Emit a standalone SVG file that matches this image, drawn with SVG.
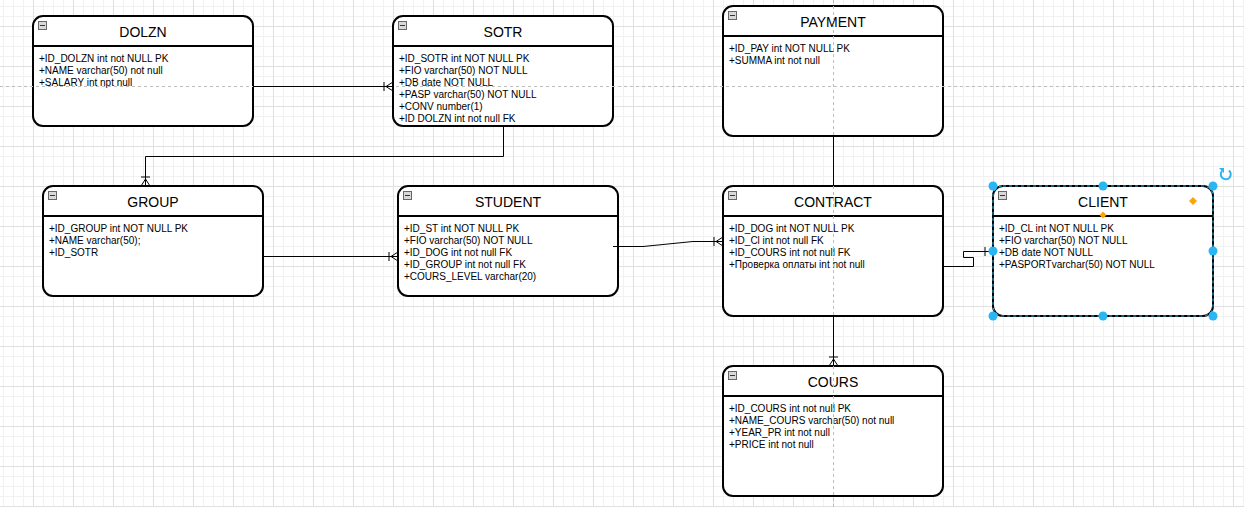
<svg xmlns="http://www.w3.org/2000/svg" width="1244" height="507" viewBox="0 0 1244 507">
<style>
.box{fill:#fff;stroke:#000;stroke-width:2}
.div{stroke:#000;stroke-width:2}
.ttl{font-family:"Liberation Sans",Arial,sans-serif;font-size:14px;fill:#000;text-anchor:middle}
.att{font-family:"Liberation Sans",Arial,sans-serif;font-size:10px;fill:#000}
.ico{fill:#d8d8d8;stroke:#666;stroke-width:1}
.edge{fill:none;stroke:#000;stroke-width:1}
.guide{stroke:#bdbdbd;stroke-width:1;stroke-dasharray:3 3;fill:none}
.hdl{fill:#29b6f2}
.dia{fill:#ffa500}
</style>
<defs>
<pattern id="grid" patternUnits="userSpaceOnUse" x="33" y="26" width="40" height="40">
<rect width="40" height="40" fill="#fff"/>
<rect x="10" y="0" width="1" height="40" fill="#f1f1f1"/>
<rect x="20" y="0" width="1" height="40" fill="#f1f1f1"/>
<rect x="30" y="0" width="1" height="40" fill="#f1f1f1"/>
<rect x="0" y="10" width="40" height="1" fill="#f1f1f1"/>
<rect x="0" y="20" width="40" height="1" fill="#f1f1f1"/>
<rect x="0" y="30" width="40" height="1" fill="#f1f1f1"/>
<rect x="0" y="0" width="1" height="40" fill="#e0e0e0"/>
<rect x="0" y="0" width="40" height="1" fill="#e0e0e0"/>
</pattern>
<marker id="many" markerUnits="userSpaceOnUse" markerWidth="12" markerHeight="12" viewBox="0 0 12 12" refX="12" refY="6" orient="auto">
<path d="M3,1.5 V10.5 M5,6 L12,1.5 M5,6 L12,10.5 M0,6 H12" fill="none" stroke="#000" stroke-width="1"/>
</marker>
<marker id="one" markerUnits="userSpaceOnUse" markerWidth="12" markerHeight="12" viewBox="0 0 12 12" refX="12" refY="6" orient="auto">
<path d="M4,1.5 V10.5 M0,6 H12" fill="none" stroke="#000" stroke-width="1"/>
</marker>
</defs>
<rect width="1244" height="507" fill="url(#grid)"/>

<g id="DOLZN">
<rect class="box" x="33" y="16" width="220" height="110" rx="10"/>
<line class="div" x1="33" y1="46" x2="253" y2="46"/>
<rect class="ico" x="38.5" y="21.5" width="8" height="8"/><line x1="40" y1="25.5" x2="45" y2="25.5" stroke="#333"/>
<text class="ttl" x="143" y="37">DOLZN</text>
<text class="att" x="39" y="62">+ID_DOLZN int not NULL PK</text>
<text class="att" x="39" y="74">+NAME varchar(50) not null</text>
<text class="att" x="39" y="86">+SALARY int npt null</text>
</g>

<g id="SOTR">
<rect class="box" x="393" y="16" width="220" height="110" rx="10"/>
<line class="div" x1="393" y1="46" x2="613" y2="46"/>
<rect class="ico" x="398.5" y="21.5" width="8" height="8"/><line x1="400" y1="25.5" x2="405" y2="25.5" stroke="#333"/>
<text class="ttl" x="503" y="37">SOTR</text>
<text class="att" x="399" y="62">+ID_SOTR int NOT NULL PK</text>
<text class="att" x="399" y="74">+FIO varchar(50) NOT NULL</text>
<text class="att" x="399" y="86">+DB date NOT NULL</text>
<text class="att" x="399" y="98">+PASP varchar(50) NOT NULL</text>
<text class="att" x="399" y="110">+CONV number(1)</text>
<text class="att" x="399" y="122">+ID DOLZN int not null FK</text>
</g>

<g id="PAYMENT">
<rect class="box" x="723" y="6" width="220" height="130" rx="10"/>
<line class="div" x1="723" y1="36" x2="943" y2="36"/>
<rect class="ico" x="728.5" y="11.5" width="8" height="8"/><line x1="730" y1="15.5" x2="735" y2="15.5" stroke="#333"/>
<text class="ttl" x="833" y="27">PAYMENT</text>
<text class="att" x="729" y="52">+ID_PAY int NOT NULL PK</text>
<text class="att" x="729" y="64">+SUMMA int not null</text>
</g>

<g id="GROUP">
<rect class="box" x="43" y="186" width="220" height="110" rx="10"/>
<line class="div" x1="43" y1="216" x2="263" y2="216"/>
<rect class="ico" x="48.5" y="191.5" width="8" height="8"/><line x1="50" y1="195.5" x2="55" y2="195.5" stroke="#333"/>
<text class="ttl" x="153" y="207">GROUP</text>
<text class="att" x="49" y="232">+ID_GROUP int NOT NULL PK</text>
<text class="att" x="49" y="244">+NAME varchar(50);</text>
<text class="att" x="49" y="256">+ID_SOTR</text>
</g>

<g id="STUDENT">
<rect class="box" x="398" y="186" width="220" height="110" rx="10"/>
<line class="div" x1="398" y1="216" x2="618" y2="216"/>
<rect class="ico" x="403.5" y="191.5" width="8" height="8"/><line x1="405" y1="195.5" x2="410" y2="195.5" stroke="#333"/>
<text class="ttl" x="508" y="207">STUDENT</text>
<text class="att" x="404" y="232">+ID_ST int NOT NULL PK</text>
<text class="att" x="404" y="244">+FIO varchar(50) NOT NULL</text>
<text class="att" x="404" y="256">+ID_DOG int not null FK</text>
<text class="att" x="404" y="268">+ID_GROUP int not null FK</text>
<text class="att" x="404" y="280">+COURS_LEVEL varchar(20)</text>
</g>

<g id="CONTRACT">
<rect class="box" x="723" y="186" width="220" height="130" rx="10"/>
<line class="div" x1="723" y1="216" x2="943" y2="216"/>
<rect class="ico" x="728.5" y="191.5" width="8" height="8"/><line x1="730" y1="195.5" x2="735" y2="195.5" stroke="#333"/>
<text class="ttl" x="833" y="207">CONTRACT</text>
<text class="att" x="729" y="232">+ID_DOG int NOT NULL PK</text>
<text class="att" x="729" y="244">+ID_Cl int not null FK</text>
<text class="att" x="729" y="256">+ID_COURS int not null FK</text>
<text class="att" x="729" y="268">+Проверка оплаты int not null</text>
</g>

<g id="CLIENT">
<rect class="box" x="993" y="186" width="220" height="130" rx="10"/>
<rect x="993" y="186" width="220" height="130" rx="10" fill="none" stroke="#29b6f2" stroke-width="1" stroke-dasharray="3 3"/>
<line class="div" x1="993" y1="216" x2="1213" y2="216"/>
<rect class="ico" x="998.5" y="191.5" width="8" height="8"/><line x1="1000" y1="195.5" x2="1005" y2="195.5" stroke="#333"/>
<text class="ttl" x="1103" y="207">CLIENT</text>
<text class="att" x="999" y="232">+ID_CL int NOT NULL PK</text>
<text class="att" x="999" y="244">+FIO varchar(50) NOT NULL</text>
<text class="att" x="999" y="256">+DB date NOT NULL</text>
<text class="att" x="999" y="268">+PASPORTvarchar(50) NOT NULL</text>
</g>

<g id="COURS">
<rect class="box" x="723" y="366" width="220" height="130" rx="10"/>
<line class="div" x1="723" y1="396" x2="943" y2="396"/>
<rect class="ico" x="728.5" y="371.5" width="8" height="8"/><line x1="730" y1="375.5" x2="735" y2="375.5" stroke="#333"/>
<text class="ttl" x="833" y="387">COURS</text>
<text class="att" x="729" y="412">+ID_COURS int not null PK</text>
<text class="att" x="729" y="424">+NAME_COURS varchar(50) not null</text>
<text class="att" x="729" y="436">+YEAR_PR int not null</text>
<text class="att" x="729" y="448">+PRICE int not null</text>
</g>

<g id="guides">
<line class="guide" x1="0" y1="86.5" x2="1244" y2="86.5"/>
<line class="guide" x1="833.5" y1="0" x2="833.5" y2="507"/>
</g>

<g id="connectors">
<path class="edge" d="M253,86.5 H393" marker-end="url(#many)"/>
<path class="edge" d="M503.5,126 V156.5 H145.5 V186" marker-end="url(#many)"/>
<path class="edge" d="M263,256.5 H398" marker-end="url(#many)"/>
<path class="edge" d="M613,246.5 H643 L693,241.5 H723" marker-end="url(#many)"/>
<path class="edge" d="M833.5,136 V186"/>
<path class="edge" d="M943,266.5 H973.5 V257.5 H963.5 V251.5 H993" marker-end="url(#one)"/>
<path class="edge" d="M833.5,316 V366" marker-end="url(#many)"/>
</g>

<g id="selection">
<circle class="hdl" cx="993" cy="186" r="4.5"/>
<circle class="hdl" cx="1103" cy="186" r="4.5"/>
<circle class="hdl" cx="1213" cy="186" r="4.5"/>
<circle class="hdl" cx="993" cy="251" r="4.5"/>
<circle class="hdl" cx="1213" cy="251" r="4.5"/>
<circle class="hdl" cx="993" cy="316" r="4.5"/>
<circle class="hdl" cx="1103" cy="316" r="4.5"/>
<circle class="hdl" cx="1213" cy="316" r="4.5"/>
<path class="dia" d="M1193,197 L1197,201 L1193,205 L1189,201 Z"/>
<path class="dia" d="M1103,211.5 L1106.5,215 L1103,218.5 L1099.5,215 Z"/>
<path d="M1229,170.5 A5,5 0 1 1 1222,171" fill="none" stroke="#29b6f2" stroke-width="2"/>
<path d="M1219,168 L1224,168 L1224,173 Z" fill="#29b6f2"/>
</g>
</svg>
